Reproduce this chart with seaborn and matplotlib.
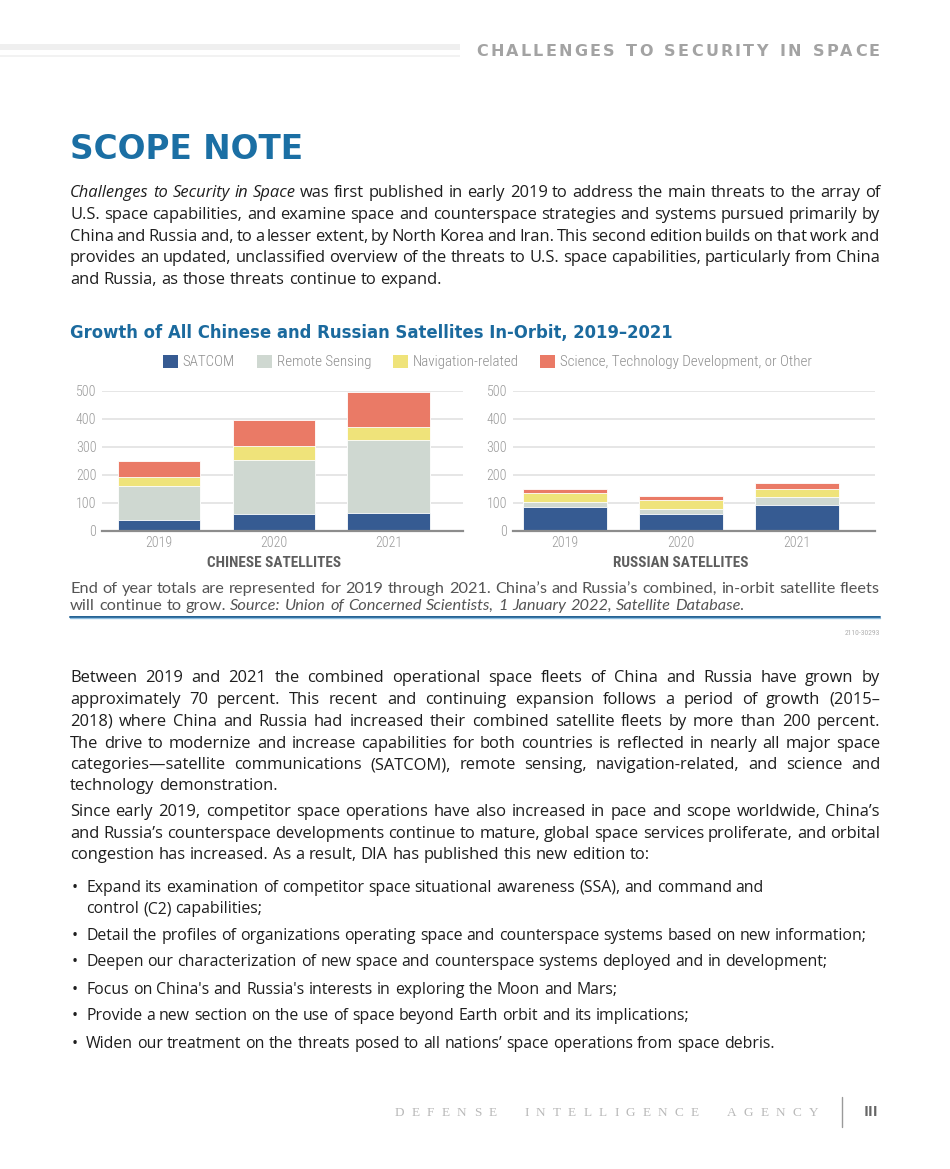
import matplotlib
matplotlib.use('Agg')
import matplotlib.pyplot as plt
import matplotlib.transforms as mtransforms
from matplotlib.patches import Patch, Rectangle
from matplotlib.lines import Line2D
from matplotlib import font_manager as fm
import seaborn as sns
import pandas as pd

# ---------------- data ----------------
years = ['2019', '2020', '2021']
categories = ['SATCOM', 'Remote Sensing', 'Navigation-related',
              'Science, Technology Development, or Other']
china_satcom = [37, 58, 63]
china_remote = [124, 196, 260]
china_nav = [29, 48, 48]
china_other = [60, 94, 124]
russia_satcom = [85, 58, 92]
russia_remote = [17, 19, 29]
russia_nav = [34, 31, 29]
russia_other = [13, 15, 20]
yticks = [0, 100, 200, 300, 400, 500]
panel_titles = ['CHINESE SATELLITES', 'RUSSIAN SATELLITES']
colors = ['#365b92', '#cfd8d1', '#efe37a', '#ea7a66']

rows = []
for country, vals in [('China', [china_satcom, china_remote, china_nav, china_other]),
                      ('Russia', [russia_satcom, russia_remote, russia_nav, russia_other])]:
    for cat, series in zip(categories, vals):
        for yr, v in zip(years, series):
            rows.append({'country': country, 'year': yr, 'category': cat, 'value': v})
df = pd.DataFrame(rows)

# ---------------- setup ----------------
W, H = 950, 1169
sns.set_theme(style='white')
entries = fm.fontManager.ttflist
names = {f.name for f in entries}

def weights(name):
    out = []
    for f in entries:
        if f.name == name:
            w = f.weight
            if isinstance(w, str):
                w = fm.weight_dict.get(w, 400)
            out.append(int(w))
    return sorted(set(out))

def pick(*cands, need_bold=False):
    for c in cands:
        if c in names and (not need_bold or any(w >= 600 for w in weights(c))):
            return c
    return 'DejaVu Sans'

BODYF = pick('Open Sans', 'Noto Sans', 'DejaVu Sans')
COND = pick('Roboto Condensed', 'Liberation Sans Narrow', 'Roboto')
HEADF = pick('DejaVu Sans', need_bold=True)
SERIF = pick('Liberation Serif', 'DejaVu Serif')
CAPF = pick('Lato', 'Open Sans')
plt.rcParams['font.family'] = [BODYF, 'DejaVu Sans']
cond_light = 300 if any(w <= 350 for w in weights(COND)) else 'normal'

fig = plt.figure(figsize=(W / 100, H / 100), dpi=100)
renderer = fig.canvas.get_renderer()

def fx(x):
    return x / W

def fy(y):
    return 1 - y / H

def twidth(t):
    return t.get_window_extent(renderer).width

def measure(s, **kw):
    t = fig.text(0, 0, s, **kw)
    w = twidth(t)
    t.remove()
    return w

def fit_size(s, target, base=12, **kw):
    return base * target / measure(s, size=base, **kw)

def draw_line(line, x0, x1, y, justify=True, **kw):
    items = []
    italic = False
    for w in line.split(' '):
        if w.startswith('*'):
            italic = True
            w = w[1:]
        end = w.endswith('*')
        if end:
            w = w[:-1]
        items.append((w, italic))
        if end:
            italic = False
    arts = [fig.text(0, fy(y), w, style='italic' if it else 'normal',
                     va='baseline', ha='left', **kw) for w, it in items]
    widths = [twidth(t) for t in arts]
    sp = measure('n n', **kw) - measure('nn', **kw)
    if justify and len(arts) > 1:
        gap = (x1 - x0 - sum(widths)) / (len(arts) - 1)
    else:
        gap = sp
    x = x0
    for t, w in zip(arts, widths):
        t.set_x(fx(x))
        x += w + gap

def spaced(s, x0, x1, y, space_factor=1.0, **kw):
    arts, widths = [], []
    for ch in s:
        if ch == ' ':
            arts.append(None)
            widths.append(None)
        else:
            t = fig.text(0, fy(y), ch, va='baseline', ha='left', **kw)
            arts.append(t)
            widths.append(twidth(t))
    cw = [w for w in widths if w is not None]
    spw = space_factor * sum(cw) / len(cw)
    total = sum(cw) + spw * widths.count(None)
    ls = (x1 - x0 - total) / (len(s) - 1)
    x = x0
    for t, w in zip(arts, widths):
        if t is None:
            x += spw + ls
        else:
            t.set_x(fx(x))
            x += w + ls

# ---------------- page header ----------------
fig.add_artist(Rectangle((0, fy(50)), fx(460), 6 / H, transform=fig.transFigure,
                         color='#efefef', lw=0))
fig.add_artist(Rectangle((0, fy(57)), fx(460), 2.5 / H, transform=fig.transFigure,
                         color='#f2f2f2', lw=0))
spaced('CHALLENGES TO SECURITY IN SPACE', 476, 880, 56, space_factor=0.6,
       size=11.5, weight='bold', color='#a3a3a3', family=[HEADF, 'DejaVu Sans'])

# ---------------- title ----------------
s = 'SCOPE NOTE'
fig.text(fx(70), fy(159), s, va='baseline', ha='left', color='#1b6fa4', weight='bold',
         family=[HEADF, 'DejaVu Sans'],
         size=fit_size(s, 233, weight='bold', family=[HEADF, 'DejaVu Sans']))

BODY = dict(family=[BODYF, 'DejaVu Sans'], color='#1e1e1e')
BODY['size'] = fit_size('congestion has increased. As a result, DIA has published this new edition to:',
                        578, **BODY)

para1 = ["*Challenges to Security in Space* was first published in early 2019 to address the main threats to the array of",
         "U.S. space capabilities, and examine space and counterspace strategies and systems pursued primarily by",
         "China and Russia and, to a lesser extent, by North Korea and Iran. This second edition builds on that work and",
         "provides an updated, unclassified overview of the threats to U.S. space capabilities, particularly from China",
         "and Russia, as those threats continue to expand."]
for i, (ln, y) in enumerate(zip(para1, [197, 219, 241, 262, 283.5])):
    draw_line(ln, 70, 880, y, justify=i < len(para1) - 1, **BODY)

# ---------------- chart ----------------
s = 'Growth of All Chinese and Russian Satellites In-Orbit, 2019–2021'
fig.text(fx(70), fy(338), s, va='baseline', ha='left', color='#1b6a9e', weight='bold',
         family=[HEADF, 'DejaVu Sans'],
         size=fit_size(s, 603, weight='bold', family=[HEADF, 'DejaVu Sans']))

axL = fig.add_axes([fx(102), fy(530.7), (463 - 102) / W, 140 / H])
axR = fig.add_axes([fx(512.7), fy(530.7), (875 - 512.7) / W, 140 / H])
tickfont = dict(family=[COND, 'DejaVu Sans'], size=10, color='#9a9a9a')

for ax, country, xl, ttl in [(axL, 'China', (-0.496, 2.646), panel_titles[0]),
                             (axR, 'Russia', (-0.448, 2.67), panel_titles[1])]:
    sub = df[df.country == country].pivot(index='year', columns='category', values='value')[categories]
    cum = sub.cumsum(axis=1)
    for cat, col in reversed(list(zip(categories, colors))):
        d = pd.DataFrame({'year': cum.index, 'cum': cum[cat].values})
        sns.barplot(data=d, x='year', y='cum', order=years, color=col, saturation=1,
                    width=0.72, ax=ax, edgecolor='white', linewidth=0.6, errorbar=None)
    ax.set_xlim(*xl)
    ax.set_ylim(0, 500)
    ax.set_yticks(yticks)
    ax.set_xlabel('')
    ax.set_ylabel('')
    ax.yaxis.grid(True, color='#e2e2e2', lw=1.2)
    ax.set_axisbelow(True)
    for sp in ['top', 'right', 'left']:
        ax.spines[sp].set_visible(False)
    ax.spines['bottom'].set_color('#8c8c8c')
    ax.spines['bottom'].set_linewidth(1.6)
    ax.tick_params(axis='both', length=0, pad=4)
    for lab in ax.get_xticklabels() + ax.get_yticklabels():
        lab.set_fontfamily(tickfont['family'])
        lab.set_fontsize(tickfont['size'])
        lab.set_color(tickfont['color'])
        lab.set_fontweight(cond_light)
    tr = mtransforms.blended_transform_factory(ax.transData, ax.transAxes)
    ax.text(1, -0.26, ttl, transform=tr, ha='center', va='baseline', weight='bold',
            family=[COND, 'DejaVu Sans'], size=11, color='#5e5e5e')

LEGP = {'family': [COND, 'DejaVu Sans'], 'weight': cond_light}
LEGP['size'] = fit_size(categories[3], 252, **LEGP)
handles = [Patch(facecolor=c, edgecolor='none') for c in colors]
leg = fig.legend(handles, categories, ncol=4, loc='center left',
                 bbox_to_anchor=(fx(163), fy(362)), frameon=False, borderpad=0,
                 borderaxespad=0, handlelength=1.0, handleheight=1.0,
                 handletextpad=0.32, columnspacing=1.45, prop=LEGP)
for t in leg.get_texts():
    t.set_color('#8e8e8e')

# caption
CAP = dict(family=[CAPF, 'DejaVu Sans'], color='#555555')
CAP['size'] = fit_size("End of year totals are represented for 2019 through 2021. China’s and Russia’s combined, in-orbit satellite fleets",
                       803, **CAP)
draw_line("End of year totals are represented for 2019 through 2021. China’s and Russia’s combined, in-orbit satellite fleets",
          70, 873, 593, justify=False, **CAP)
draw_line("will continue to grow. *Source: Union of Concerned Scientists, 1 January 2022, Satellite Database.*",
          70, 873, 610, justify=False, **CAP)
fig.add_artist(Line2D([fx(70), fx(880)], [fy(616.5)] * 2, transform=fig.transFigure,
                      color='#1f5f92', lw=1.4))
fig.add_artist(Line2D([fx(70), fx(880)], [fy(618.3)] * 2, transform=fig.transFigure,
                      color='#8dbde0', lw=1.0))
fig.text(fx(880), fy(635), '2110-30293', ha='right', va='baseline', size=5.5,
         color='#b0b0b0', family=[COND, 'DejaVu Sans'])

# ---------------- body text ----------------
para2 = ["Between 2019 and 2021 the combined operational space fleets of China and Russia have grown by",
         "approximately 70 percent. This recent and continuing expansion follows a period of growth (2015–",
         "2018) where China and Russia had increased their combined satellite fleets by more than 200 percent.",
         "The drive to modernize and increase capabilities for both countries is reflected in nearly all major space",
         "categories—satellite communications (SATCOM), remote sensing, navigation-related, and science and",
         "technology demonstration."]
for i, (ln, y) in enumerate(zip(para2, [682.5, 704, 726, 747.5, 769, 790.5])):
    draw_line(ln, 70, 880, y, justify=i < len(para2) - 1, **BODY)

para3 = ["Since early 2019, competitor space operations have also increased in pace and scope worldwide, China’s",
         "and Russia’s counterspace developments continue to mature, global space services proliferate, and orbital",
         "congestion has increased. As a result, DIA has published this new edition to:"]
for i, (ln, y) in enumerate(zip(para3, [816, 837.5, 859])):
    draw_line(ln, 70, 880, y, justify=i < len(para3) - 1, **BODY)

bullets = [["Expand its examination of competitor space situational awareness (SSA), and command and",
            "control (C2) capabilities;"],
           ["Detail the profiles of organizations operating space and counterspace systems based on new information;"],
           ["Deepen our characterization of new space and counterspace systems deployed and in development;"],
           ["Focus on China's and Russia's interests in exploring the Moon and Mars;"],
           ["Provide a new section on the use of space beyond Earth orbit and its implications;"],
           ["Widen our treatment on the threats posed to all nations’ space operations from space debris."]]
BUL = dict(BODY)
BUL['size'] = fit_size(bullets[1][0], 776, **{k: v for k, v in BODY.items() if k != 'size'})
ys = [[891.5, 913], [939.5], [966.5], [993.5], [1020.5], [1047.5]]
for blines, bys in zip(bullets, ys):
    fig.text(fx(72), fy(bys[0]), '•', va='baseline', ha='left', **BUL)
    for ln, y in zip(blines, bys):
        draw_line(ln, 86, 880, y, justify=False, **BUL)

# ---------------- footer ----------------
spaced('DEFENSE INTELLIGENCE AGENCY', 395, 818, 1116, space_factor=1.6,
       size=9.5, color='#b9b9b9', family=[SERIF, 'DejaVu Serif'])
fig.add_artist(Line2D([fx(842), fx(842)], [fy(1097), fy(1127)], transform=fig.transFigure,
                      color='#9a9a9a', lw=1.0))
fig.text(fx(864), fy(1116), 'III', ha='left', va='baseline', size=10.5, weight='bold',
         color='#666666', family=[BODYF, 'DejaVu Sans'])

fig.savefig('out.png', dpi=100)
